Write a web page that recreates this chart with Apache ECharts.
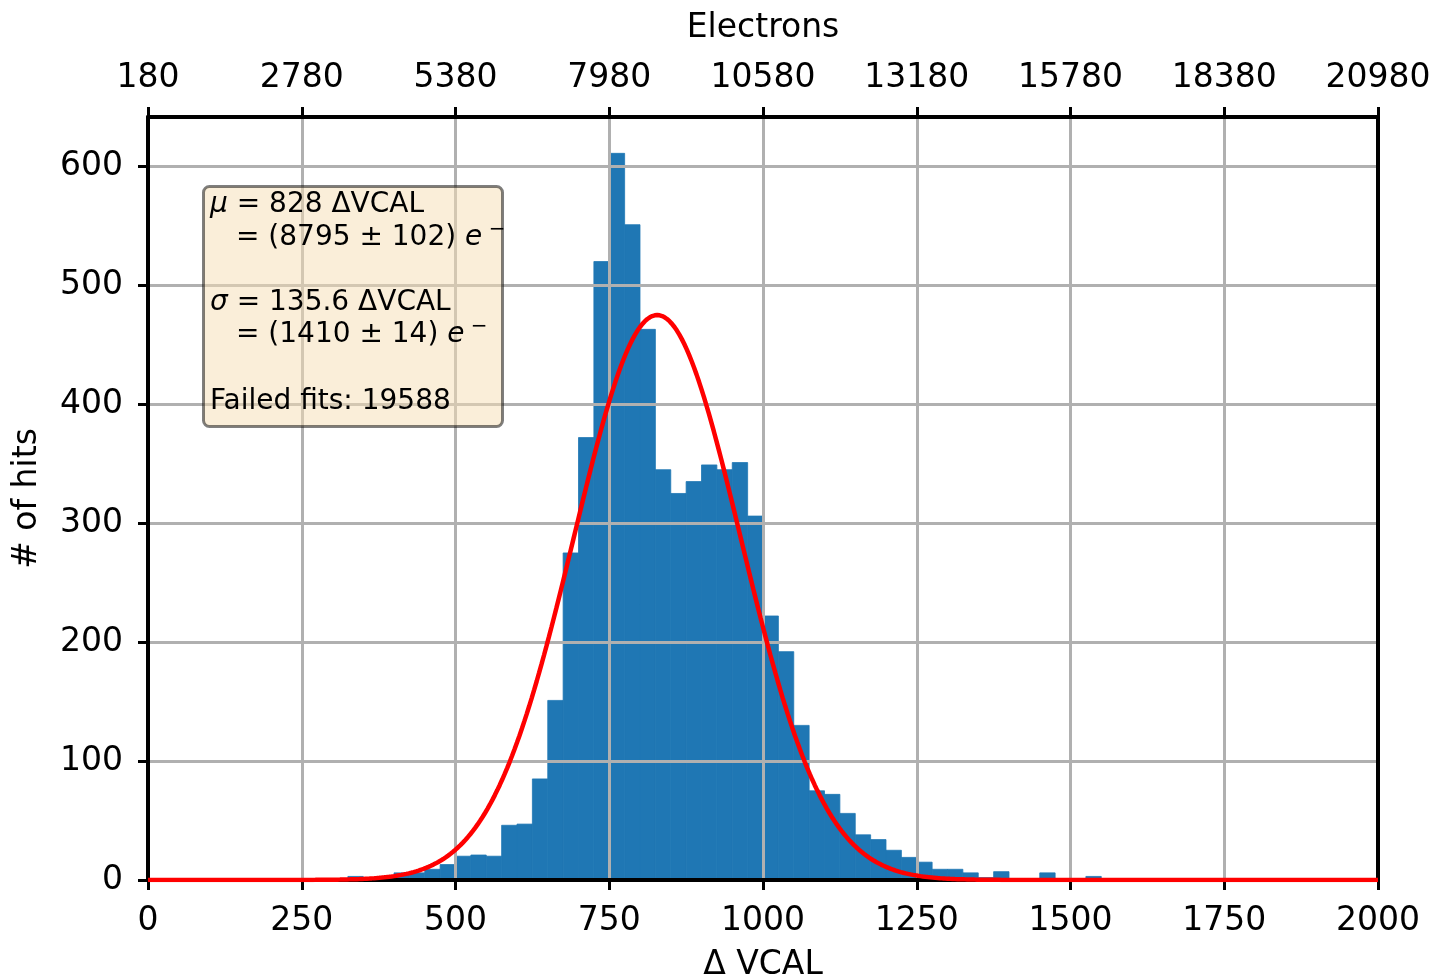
<!DOCTYPE html>
<html>
<head>
<meta charset="utf-8">
<script src="https://cdn.jsdelivr.net/npm/echarts@6/dist/echarts.min.js"></script>
<style>
html,body{margin:0;padding:0;background:#fff;}
#chart{width:1436px;height:979px;}
</style>
</head>
<body>
<div id="chart"></div>
<script>
// ---- data ----
const binWidth = 25; // ΔVCAL per bin, bins start at 0
const counts = [
  0, 0, 0, 0, 1, 0, 1, 0, 0, 0,
  0, 0, 0, 3, 0, 1, 6, 6, 9, 13,
  20, 21, 20, 46, 47, 85, 151, 275, 372, 520,
  611, 551, 463, 345, 325, 335, 349, 345, 351, 306,
  222, 192, 130, 75, 72, 56, 38, 34, 25, 19,
  15, 9, 9, 6, 2, 7, 1, 0, 6, 0,
  0, 3, 0, 0, 0, 0, 0, 0, 0, 0,
  0, 0, 0, 0, 0, 0, 0, 0, 0, 0
];
const xTicks = [0, 250, 500, 750, 1000, 1250, 1500, 1750, 2000];
const electronLabels = ['180', '2780', '5380', '7980', '10580', '13180', '15780', '18380', '20980'];
const yTicks = [0, 100, 200, 300, 400, 500, 600];
// Gaussian fit parameters (from the fit box)
const fitMu = 828;
const fitSigma = 135.6;
const fitAmp = 475;

// ---- build ----
const histData = counts.map((c, i) => [i * binWidth, (i + 1) * binWidth, c]);
const fitData = [];
for (let x = 0; x <= 2000; x += 4) {
  fitData.push([x, fitAmp * Math.exp(-0.5 * Math.pow((x - fitMu) / fitSigma, 2))]);
}

const FONT = 'DejaVu Sans';
const black = '#000';
const gridGray = '#b0b0b0';
const BOXFS = 28;

const chart = echarts.init(document.getElementById('chart'), null, {renderer: 'canvas'});
chart.setOption({
  animation: false,
  backgroundColor: '#fff',
  grid: {left: 148, top: 117, width: 1230, height: 763, containLabel: false, outerBoundsMode: 'none'},
  xAxis: [{
    type: 'value', position: 'bottom', min: 0, max: 2000, interval: 250, z: 3,
    name: 'Δ VCAL', nameLocation: 'middle', nameGap: 69,
    nameTextStyle: {fontFamily: FONT, fontSize: 33, color: black},
    axisLine: {show: true, onZero: false, lineStyle: {color: black, width: 4}},
    axisTick: {show: true, length: 10, lineStyle: {color: black, width: 3}},
    axisLabel: {show: true, margin: 25, fontFamily: FONT, fontSize: 33, color: black,
      formatter: v => String(v)},
    splitLine: {show: true, lineStyle: {color: gridGray, width: 3}}
  }, {
    type: 'value', position: 'top', min: 0, max: 2000, interval: 250, z: 3,
    name: 'Electrons', nameLocation: 'middle', nameGap: 72,
    nameTextStyle: {fontFamily: FONT, fontSize: 33, color: black},
    axisLine: {show: true, onZero: false, lineStyle: {color: black, width: 4}},
    axisTick: {show: true, length: 10, lineStyle: {color: black, width: 3}},
    axisLabel: {show: true, margin: 22, fontFamily: FONT, fontSize: 33, color: black,
      formatter: v => { const k = xTicks.indexOf(v); return k >= 0 ? electronLabels[k] : ''; }},
    splitLine: {show: false}
  }],
  yAxis: [{
    type: 'value', position: 'left', min: 0, max: 641.55, interval: 100, z: 3,
    name: '# of hits', nameLocation: 'middle', nameGap: 104, nameRotate: 90,
    nameTextStyle: {fontFamily: FONT, fontSize: 33, color: black},
    axisLine: {show: true, onZero: false, lineStyle: {color: black, width: 4}},
    axisTick: {show: true, length: 10, lineStyle: {color: black, width: 3}, customValues: yTicks},
    axisLabel: {show: true, margin: 25, fontFamily: FONT, fontSize: 33, color: black, customValues: yTicks},
    splitLine: {show: true, lineStyle: {color: gridGray, width: 3}}
  }, {
    type: 'value', position: 'right', min: 0, max: 641.55, z: 3,
    axisLine: {show: true, onZero: false, lineStyle: {color: black, width: 4}},
    axisTick: {show: false}, axisLabel: {show: false}, splitLine: {show: false}
  }],
  series: [{
    type: 'custom', name: 'hits', xAxisIndex: 0, yAxisIndex: 0, z: 1,
    encode: {x: [0, 1], y: 2},
    data: histData,
    renderItem: (params, api) => {
      const p0 = api.coord([api.value(0), api.value(2)]);
      const p1 = api.coord([api.value(1), 0]);
      return {type: 'rect', shape: {x: p0[0], y: p0[1], width: p1[0] - p0[0], height: p1[1] - p0[1]},
        style: {fill: '#1f77b4', stroke: api.value(2) > 0 ? '#1f77b4' : null, lineWidth: 0.8}};
    }
  }, {
    type: 'line', name: 'fit', xAxisIndex: 0, yAxisIndex: 0, z: 5,
    showSymbol: false, symbol: 'none', smooth: false,
    lineStyle: {color: '#ff0000', width: 4.5},
    data: fitData
  }],
  graphic: [{
    type: 'rect', z: 10, left: 202, top: 185,
    shape: {width: 299, height: 240, r: 6},
    style: {fill: 'rgba(245,222,179,0.5)', stroke: 'rgba(0,0,0,0.5)', lineWidth: 3}
  }, {
    type: 'text', z: 11, x: 210, y: 205,
    style: {text: '{i|μ}{n| = 828 ΔVCAL}', verticalAlign: 'middle',
      rich: {i: {fontFamily: FONT, fontStyle: 'italic', fontSize: BOXFS, fill: black},
             n: {fontFamily: FONT, fontSize: BOXFS, fill: black}}}
  }, {
    type: 'text', z: 11, x: 236, y: 238,
    style: {text: '{n|= (8795 ± 102) }{i|e}{s| −}', verticalAlign: 'middle',
      rich: {i: {fontFamily: FONT, fontStyle: 'italic', fontSize: BOXFS, fill: black},
             n: {fontFamily: FONT, fontSize: BOXFS, fill: black},
             s: {fontFamily: FONT, fontSize: 20, fill: black, padding: [0, 0, 16, 0]}}}
  }, {
    type: 'text', z: 11, x: 210, y: 303,
    style: {text: '{i|σ}{n| = 135.6 ΔVCAL}', verticalAlign: 'middle',
      rich: {i: {fontFamily: FONT, fontStyle: 'italic', fontSize: BOXFS, fill: black},
             n: {fontFamily: FONT, fontSize: BOXFS, fill: black}}}
  }, {
    type: 'text', z: 11, x: 236, y: 335,
    style: {text: '{n|= (1410 ± 14) }{i|e}{s| −}', verticalAlign: 'middle',
      rich: {i: {fontFamily: FONT, fontStyle: 'italic', fontSize: BOXFS, fill: black},
             n: {fontFamily: FONT, fontSize: BOXFS, fill: black},
             s: {fontFamily: FONT, fontSize: 20, fill: black, padding: [0, 0, 16, 0]}}}
  }, {
    type: 'text', z: 11, x: 210, y: 402,
    style: {text: 'Failed fits: 19588', verticalAlign: 'middle',
      fontFamily: FONT, fontSize: BOXFS, fill: black}
  }]
});
</script>
</body>
</html>
